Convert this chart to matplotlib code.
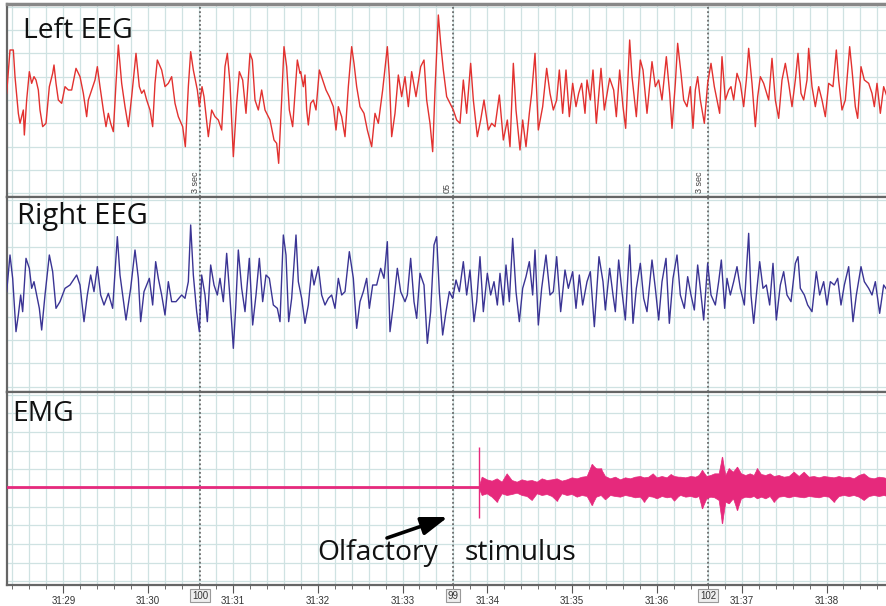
import matplotlib
matplotlib.use("Agg")
import matplotlib.pyplot as plt
import matplotlib.transforms as mtransforms

# sample index (about 254 samples per second), amplitude in arbitrary units
SAMPLES_PER_SEC = 254.4
T0 = 190  # sample at 31:29

time_labels = ["31:29", "31:30", "31:31", "31:32", "31:33",
               "31:34", "31:35", "31:36", "31:37", "31:38"]
marker_n = [600, 1359, 2124]
marker_labels = ["100", "99", "102"]
note_n = [585, 1341, 2100]
note_labels = ["3 sec", "05", "3 sec"]

left_eeg = [
    (20, 20), (30, 150), (40, 150), (45, 70), (55, -40), (60, -70), (70, -30), (73, -105),
    (80, 0), (88, 85), (95, 50), (102, 70), (108, 60), (115, 30), (120, -30), (128, -80),
    (138, -70), (148, 40), (158, 80), (162, 105), (168, 50), (175, 0), (185, -10), (195, 40),
    (205, 30), (215, 30), (228, 95), (240, 70), (250, 20), (260, -50), (265, 0), (275, 30),
    (285, 60), (292, 100), (300, 40), (310, -30), (318, -80), (325, -40), (332, -70), (340, -95),
    (348, 50), (355, 165), (365, 50), (375, -20), (385, -80), (395, 10), (408, 140), (418, 40),
    (425, 20), (432, 30), (440, 0), (450, -30), (458, -80), (465, 50), (472, 120), (485, 90),
    (495, 40), (505, 50), (515, 70), (525, -10), (535, -50), (548, -80), (556, -140), (565, 40),
    (572, 145), (580, 90), (592, 30), (598, -20), (606, 40), (612, 10), (625, -110), (635, -30),
    (645, -50), (655, -60), (665, -90), (675, 100), (682, 140), (690, 50), (700, -170), (710, -10),
    (718, 85), (728, 60), (738, -40), (750, 140), (757, 120), (765, 0), (775, -30), (785, 30),
    (795, -30), (810, -60), (822, -120), (830, -130), (836, -190), (845, 0), (852, 160), (860, 100),
    (868, -30), (878, -80), (885, 20), (892, 120), (900, 80),
    (902, 85), (910, 40), (915, 75), (920, -30), (925, -75), (932, -10), (940, 0), (948, -30),
    (958, 90), (968, 60), (978, 30), (988, 10), (1000, -20), (1008, -90), (1015, -20), (1025, -50),
    (1035, -110), (1045, 40), (1055, 160), (1062, 110), (1070, 40), (1080, -20), (1092, -40),
    (1102, -90), (1115, -140), (1125, -40), (1135, -70), (1148, 30), (1162, 160), (1168, 70),
    (1175, -110), (1185, -40), (1195, 75), (1205, 10), (1215, 70), (1225, -20), (1235, 85),
    (1248, 10), (1262, 100), (1272, 120), (1280, 0), (1290, -70), (1298, -155), (1305, 30),
    (1315, 255), (1322, 170), (1330, 90), (1340, 10), (1350, -10), (1360, -30), (1370, -60),
    (1380, -70), (1390, 60), (1400, -40), (1412, 110), (1420, 0), (1432, -110), (1442, -60),
    (1452, 0), (1465, -90), (1475, -70), (1485, -80), (1498, 15), (1510, -120), (1522, -60),
    (1530, -140), (1540, 110), (1548, -30), (1560, -150), (1568, -60), (1578, -140), (1588, -40),
    (1595, 20), (1605, 140), (1615, -90), (1628, -20), (1640, 95), (1650, 20), (1660, -30),
    (1670, 0), (1678, 90), (1688, -40), (1698, 90), (1708, -50), (1718, 50), (1728, -20),
    (1736, 20), (1745, 50), (1755, -40),
    (1761, 60), (1771, 0), (1779, 90), (1789, -70), (1803, 95), (1813, -30), (1829, 65), (1841, 30),
    (1849, -50), (1859, 90), (1869, -20), (1877, -85), (1889, 180), (1896, 70), (1909, -50),
    (1921, 120), (1929, 90), (1941, -40), (1956, 115), (1966, 40), (1976, 60), (1986, 0),
    (1999, 130), (2009, 20), (2016, -85), (2026, 50), (2033, 170), (2043, 80), (2051, 0),
    (2061, -20), (2071, 40), (2079, -85), (2086, 30), (2093, 70), (2101, 0), (2113, -70),
    (2123, 50), (2133, 110), (2143, 40), (2151, 0), (2159, -40), (2166, 130), (2176, 0),
    (2186, 30), (2193, 40), (2201, 0), (2211, 80), (2221, 50), (2231, -20), (2239, 60),
    (2246, 155), (2256, 50), (2266, -80), (2273, 10), (2281, 70), (2291, 50), (2306, 0),
    (2316, 125), (2326, 0), (2336, -55), (2346, 60), (2356, 110), (2366, 50), (2376, -20),
    (2386, 60), (2394, 140), (2403, 20), (2411, 0), (2421, 60), (2426, 155), (2436, 40),
    (2446, -20), (2456, 40), (2466, 0), (2476, -50), (2486, 50), (2499, 40), (2509, 150),
    (2516, 60), (2526, -30), (2536, 0), (2549, 160), (2556, 90), (2566, -20), (2573, -55),
    (2583, 100), (2593, 60), (2606, 50), (2616, 20), (2623, -20), (2631, 50), (2641, -40),
    (2651, 40), (2661, 10),
]

right_eeg = [
    (20, 10), (30, 120), (38, 50), (45, -60), (48, -110), (55, -60), (62, 0), (68, -50),
    (78, 110), (88, 80), (95, 20), (102, 40), (110, 0), (118, -40), (125, -105), (135, 0),
    (148, 120), (158, 70), (168, -40), (180, -20), (195, 20), (210, 30), (230, 60), (240, 30),
    (252, -80), (262, 0), (272, 60), (282, 10), (292, 85), (302, 0), (312, -30), (325, 5),
    (338, -40), (352, 175), (360, 60), (368, 0), (378, -75), (392, 20), (405, 135), (415, 50),
    (422, -80), (432, 10), (448, 50), (458, -30), (467, 100), (475, 50), (485, 0), (495, -60),
    (505, 40), (515, -20), (528, -20), (545, 0), (555, -10), (565, 40), (572, 210), (580, 60),
    (590, -50), (598, -110), (605, 60), (615, 0), (622, -80), (632, 90), (642, 30), (652, 0),
    (660, 50), (670, -20), (680, 125), (690, -10), (700, -160), (707, -40), (715, 135), (725, 20),
    (735, -50), (748, 110), (758, -90), (768, 0), (778, 110), (788, -20), (798, 60), (808, 50),
    (820, -30), (832, -40), (840, -80), (850, 180), (858, 120), (866, -80), (875, -10), (888, 180),
    (895, 40), (905, -10), (915, -85), (925, -30), (935, 75), (942, 30), (955, 85), (965, 0),
    (975, -30), (985, -10), (995, 0), (1005, -40), (1015, 50), (1025, 0), (1035, 10), (1048, 130),
    (1060, 50), (1070, -100), (1080, -20), (1090, 10), (1100, 50), (1108, -40), (1118, 30),
    (1130, 30), (1142, 80), (1152, 50), (1162, 160), (1170, -110), (1180, -30), (1192, 80),
    (1202, 10), (1215, -20), (1222, 0), (1232, 110), (1242, -20), (1250, -70), (1260, 65),
    (1272, 30), (1282, -145), (1292, -50), (1302, 150), (1310, 175), (1318, 10), (1328, -120),
    (1338, -50), (1348, 10), (1358, -10), (1368, 45), (1378, 10), (1390, 100), (1400, 0),
    (1410, 75), (1422, -80), (1430, -20), (1440, 115), (1450, -50), (1462, 65), (1472, 0),
    (1482, 40), (1492, -30), (1500, 65), (1510, -30), (1518, 90), (1528, -20), (1538, 170),
    (1548, 10), (1558, -80), (1568, 20), (1578, 55), (1588, 100), (1598, 0), (1605, 135),
    (1615, -90), (1625, 20), (1638, 120), (1650, 0), (1660, 10), (1670, 115), (1682, -50),
    (1695, 75), (1705, 20), (1718, 70), (1728, -40), (1738, 60), (1748, -30),
    (1761, 40), (1771, 70), (1783, -95), (1797, 115), (1809, 40), (1816, -45), (1829, 80),
    (1839, 0), (1846, -50), (1856, 105), (1866, 10), (1876, -75), (1889, 150), (1899, -85),
    (1909, 20), (1921, 95), (1931, -10), (1941, -50), (1956, 105), (1966, 20), (1976, -75),
    (1986, 40), (1998, 110), (2008, -85), (2019, 50), (2031, 120), (2041, 0), (2053, -40),
    (2063, 55), (2073, 0), (2083, -45), (2093, 90), (2101, 20), (2111, -75), (2123, 95),
    (2133, 0), (2146, -30), (2156, 40), (2164, 105), (2174, -40), (2181, 50), (2191, 0),
    (2201, 40), (2211, 85), (2221, 20), (2233, -30), (2246, 185), (2253, 0), (2261, -85),
    (2271, 20), (2279, 100), (2289, 20), (2299, 30), (2309, -30), (2319, 95), (2329, -75),
    (2341, 30), (2351, 70), (2361, 0), (2373, -20), (2386, 95), (2394, 115), (2401, 20),
    (2413, 0), (2423, -30), (2436, -50), (2449, 70), (2459, 0), (2471, 40), (2481, -30),
    (2491, 40), (2503, 30), (2513, 50), (2523, -30), (2533, 30), (2546, 85), (2559, -80),
    (2569, 0), (2583, 85), (2593, 40), (2606, 20), (2616, 0), (2626, 40), (2639, -55),
    (2651, 30), (2661, 15),
]

# EMG: flat before the stimulus, then a noisy band (n, upper, lower)
emg_quiet_n = [21, 1438]
emg_quiet_v = [0, 0]
emg_band = [
    (1438, 8, -8), (1445, 31, -24), (1460, 23, -19), (1475, 19, -29), (1490, 26, -44),
    (1505, 16, -19), (1520, 41, -24), (1535, 21, -21), (1550, 16, -17), (1565, 23, -24),
    (1580, 19, -27), (1595, 21, -39), (1610, 16, -19), (1625, 26, -24), (1640, 21, -21),
    (1655, 23, -27), (1670, 26, -41), (1685, 19, -19), (1700, 23, -24), (1715, 29, -21),
    (1730, 26, -29), (1745, 31, -24), (1760, 33, -27), (1775, 69, -54), (1788, 56, -29),
    (1802, 56, -24), (1815, 33, -37), (1830, 26, -24), (1845, 31, -27), (1860, 23, -29),
    (1875, 29, -24), (1890, 26, -27), (1905, 31, -31), (1920, 33, -29), (1932, 29, -44),
    (1945, 31, -27), (1958, 41, -29), (1970, 29, -34), (1985, 33, -27), (2000, 29, -31),
    (2012, 39, -29), (2022, 33, -41), (2035, 31, -27), (2041, 31, -24), (2056, 29, -29),
    (2071, 33, -27), (2086, 31, -31), (2096, 36, -27), (2106, 51, -64), (2119, 33, -34),
    (2131, 36, -29), (2143, 41, -31), (2156, 41, -39), (2166, 91, -109), (2176, 36, -44),
    (2186, 56, -49), (2199, 46, -34), (2211, 61, -69), (2223, 41, -34), (2236, 36, -29),
    (2249, 41, -31), (2261, 36, -27), (2271, 56, -34), (2283, 39, -29), (2296, 36, -34),
    (2309, 41, -27), (2321, 33, -44), (2336, 36, -29), (2351, 31, -27), (2366, 33, -31),
    (2381, 46, -27), (2396, 33, -29), (2411, 46, -31), (2426, 31, -27), (2441, 33, -29),
    (2456, 29, -31), (2471, 33, -27), (2486, 31, -29), (2501, 29, -44), (2516, 33, -27),
    (2531, 29, -24), (2546, 31, -27), (2561, 26, -24), (2576, 36, -29), (2591, 41, -39),
    (2606, 29, -27), (2621, 26, -24), (2636, 31, -27), (2651, 29, -24), (2661, 26, -27),
]
emg_spikes = [(1438, 121, -94), (1775, 69, -54), (1788, 56, -20), (1802, 56, -20),
              (2106, 51, -64), (2166, 91, -109), (2186, 56, -49), (2211, 61, -69),
              (2271, 56, -20), (2321, 20, -44), (2501, 20, -44), (1490, 20, -44),
              (1670, 20, -41), (1932, 20, -44)]

GRID = "#cfe2e2"
FRAME = "#666666"

fig = plt.figure(figsize=(8.87, 6.06), dpi=100)
ax1 = fig.add_axes([7 / 887, 1 - 197 / 606, 880 / 887, 193 / 606])
ax2 = fig.add_axes([7 / 887, 1 - 392 / 606, 880 / 887, 195 / 606], sharex=ax1)
ax3 = fig.add_axes([7 / 887, 1 - 585 / 606, 880 / 887, 193 / 606], sharex=ax1)

ylims = [(-291, 288), (-291, 294), (-294, 285)]
grid_step = [70, 70, 56]
grid_off = [0, 5, -3]
for ax, yl, gs, go in zip([ax1, ax2, ax3], ylims, grid_step, grid_off):
    ax.set_xlim(21, 2661)
    ax.set_ylim(*yl)
    gx = T0 - 4 * SAMPLES_PER_SEC / 5
    while gx < 2661:
        ax.axvline(gx, color=GRID, lw=0.9, zorder=0)
        gx += SAMPLES_PER_SEC / 5
    gy = go
    while gy < yl[1]:
        ax.axhline(gy, color=GRID, lw=0.9, zorder=0)
        gy += gs
    gy = go - gs
    while gy > yl[0]:
        ax.axhline(gy, color=GRID, lw=0.9, zorder=0)
        gy -= gs
    for m in marker_n:
        ax.axvline(m, color="#555555", lw=1.1, ls=(0, (1.2, 1.6)), zorder=1)
    ax.set_yticks([])
    for s in ax.spines.values():
        s.set_color(FRAME)
        s.set_linewidth(1.6)
    ax.spines["right"].set_visible(False)
    ax.tick_params(axis="x", which="both", bottom=False, labelbottom=False)

ax1.spines["top"].set_linewidth(2.5)
ax1.spines["top"].set_color("#888888")

n, v = zip(*left_eeg)
ax1.plot(n, v, color="#e2312f", lw=1.0, zorder=3)
n, v = zip(*right_eeg)
ax2.plot(n, v, color="#3a3494", lw=1.0, zorder=3)

emg_col = "#e6297c"
ax3.plot(emg_quiet_n, emg_quiet_v, color=emg_col, lw=2.0, zorder=3)
n, hi, lo = zip(*emg_band)
ax3.fill_between(n, lo, hi, color=emg_col, lw=0.5, zorder=3)
n, hi, lo = zip(*emg_spikes)
ax3.vlines(n, lo, hi, color=emg_col, lw=1.0, zorder=3)

# time axis
ticks = [T0 + i * SAMPLES_PER_SEC for i in range(len(time_labels))]
minor = [T0 + (i - 5) * SAMPLES_PER_SEC / 5 for i in range(60)]
ax3.set_xticks(ticks)
ax3.set_xticks([m for m in minor if 21 < m < 2661], minor=True)
ax3.set_xticklabels(time_labels, family="Liberation Sans", fontsize=7, color="#333333")
ax3.tick_params(axis="x", which="both", bottom=True, labelbottom=True, direction="out",
                color="#555555", pad=2)
ax3.tick_params(axis="x", which="major", length=6)
ax3.tick_params(axis="x", which="minor", length=3)

trans = mtransforms.blended_transform_factory(ax3.transData, ax3.transAxes)
for m, lab in zip(marker_n, marker_labels):
    ax3.text(m, -0.056, lab, transform=trans, ha="center", va="center",
             family="Liberation Sans", fontsize=7, color="#333333",
             bbox=dict(boxstyle="square,pad=0.15", fc="#eeeeee", ec="#999999", lw=0.8))

trans1 = mtransforms.blended_transform_factory(ax1.transData, ax1.transAxes)
for m, lab in zip(note_n, note_labels):
    ax1.text(m, 0.02, lab, transform=trans1, rotation=90, ha="center", va="bottom",
             family="Liberation Sans", fontsize=6.5, color="#444444")

lab_font = dict(family="Open Sans", fontsize=20.3, color="#111111")
ax1.text(0.018, 0.933, "Left EEG", transform=ax1.transAxes, ha="left", va="top", **lab_font)
ax2.text(0.0114, 0.975, "Right EEG", transform=ax2.transAxes, ha="left", va="top",
         family="Open Sans", fontsize=21, color="#111111")
ax3.text(0.0057, 0.958, "EMG", transform=ax3.transAxes, ha="left", va="top", **lab_font)

ax3.text(1314, -219, "Olfactory", ha="right", va="baseline", **lab_font)
ax3.text(1395, -219, "stimulus", ha="left", va="baseline", **lab_font)
ax3.annotate("", xy=(1344, -90), xytext=(1161, -153),
             arrowprops=dict(arrowstyle="-|>,head_length=1.6,head_width=0.55",
                             color="black", lw=2.6, shrinkA=0, shrinkB=0))

fig.savefig("out.png", dpi=100)
